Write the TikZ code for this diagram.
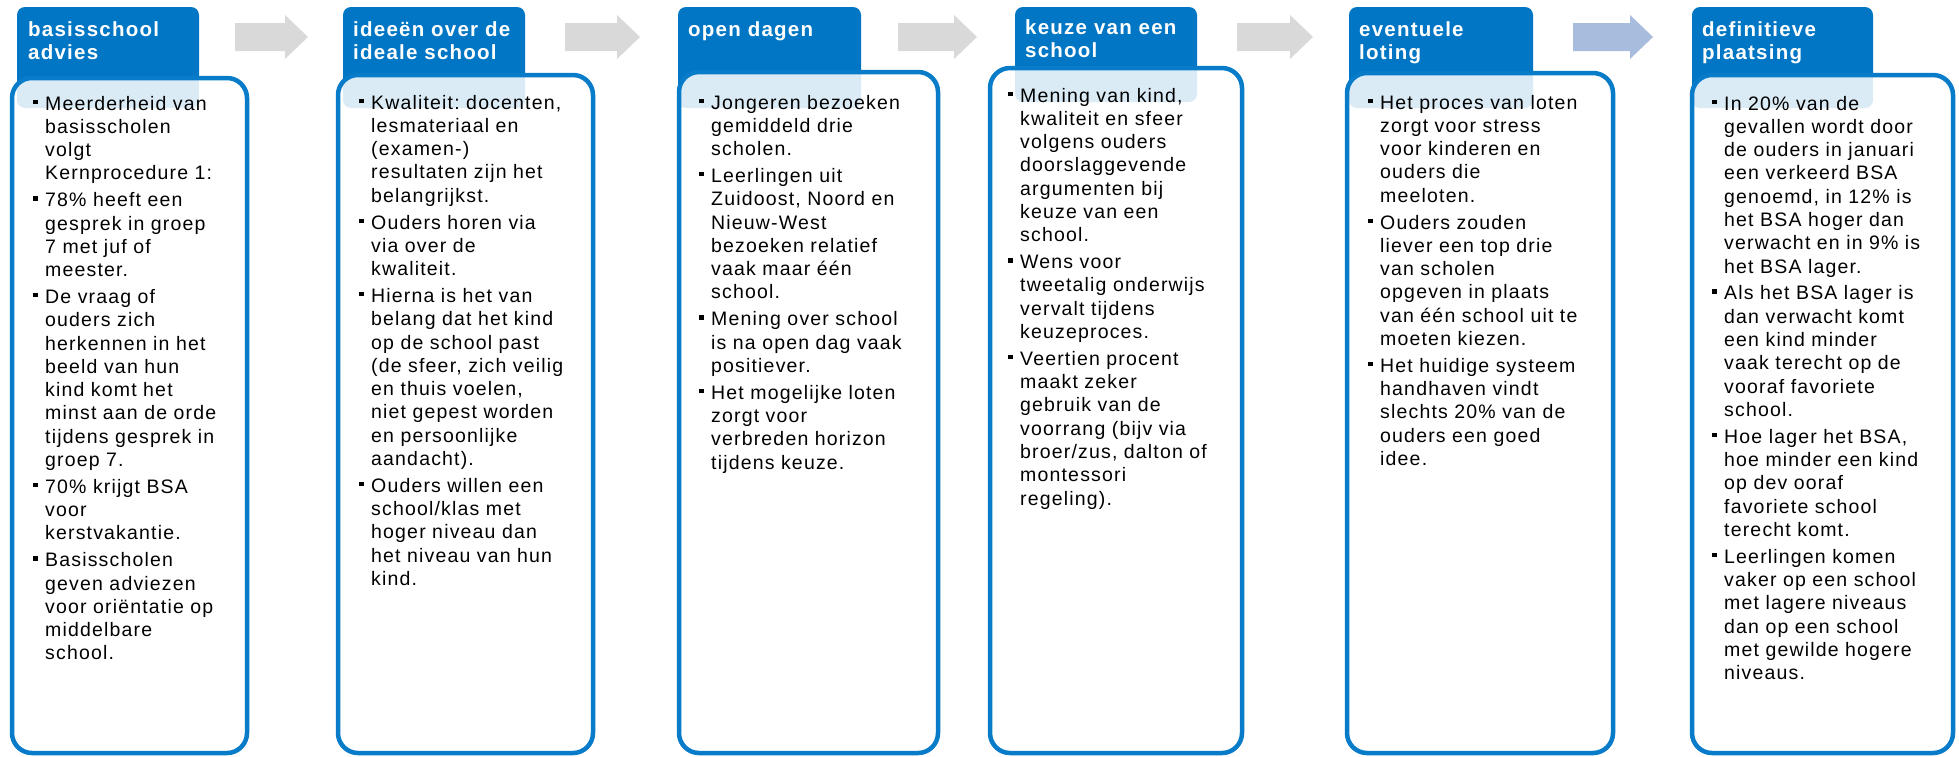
\documentclass[tikz,border=0pt]{standalone}
\usepackage{fontspec}
\setmainfont{Liberation Sans}[LetterSpace=6]
\usetikzlibrary{positioning}
\definecolor{tabblue}{RGB}{0,118,196}
\definecolor{cardblue}{RGB}{8,124,200}
\definecolor{flowgray}{RGB}{217,217,217}
\definecolor{flowblue}{RGB}{168,188,222}
\newcommand{\itm}{\par\hangindent=12pt\hangafter=1\noindent\makebox[12pt][l]{\rule[6pt]{4.5pt}{4.5pt}}}
\frenchspacing
\tikzset{
    tab/.style={fill=tabblue, rounded corners=8pt},
    card/.style={draw=cardblue, line width=4.5pt, fill=white, fill opacity=0.86, rounded corners=20pt},
    title/.style={anchor=north west, inner sep=0pt, align=left, text=white,
        font=\fontsize{20.5}{23}\selectfont\bfseries},
    body/.style={anchor=north west, inner sep=0pt, text width=250pt, align=left,
        font=\fontsize{19.5}{23.3}\selectfont\setlength{\parskip}{3.5pt}},
    flow/.style={fill=flowgray}
}
\begin{document}
\begin{tikzpicture}[x=1pt, y=-1pt]
                    \fill[white] (0,0) rectangle (1959,756);
                    \useasboundingbox (0,0) rectangle (1959,756);

                    \foreach \x/\l/\c in {235/73/flowgray, 565/75/flowgray, 898/79/flowgray, 1237/76/flowgray, 1573/80/flowblue}
                        \fill[flow, fill=\c] (\x,23) -- (\x+\l-23,23) -- (\x+\l-23,15) -- (\x+\l,37)
                            -- (\x+\l-23,59) -- (\x+\l-23,51) -- (\x,51) -- cycle;

                    \fill[tab] (17,7) rectangle (199,108);
                    \fill[tab] (343,7) rectangle (525,108);
                    \fill[tab] (678,7) rectangle (861,108);
                    \fill[tab] (1015,7) rectangle (1197,102);
                    \fill[tab] (1349,7) rectangle (1533,108);
                    \fill[tab] (1692,7) rectangle (1873,108);

                    \draw[card] (12,78) rectangle (247,753);
                    \draw[card] (338,75) rectangle (593,753);
                    \draw[card] (679,72) rectangle (938,753);
                    \draw[card] (990,68) rectangle (1242,753);
                    \draw[card] (1347,73) rectangle (1613,753);
                    \draw[card] (1692,75) rectangle (1953,753);

                    \node[title] (t1) at (28,21.5) {basisschool\\advies};
                    \node[title] (t2) at (353,21.5) {ideeën over de\\ideale school};
                    \node[title] (t3) at (688,21.5) {open dagen};
                    \node[title] (t4) at (1025,19.5) {keuze van een\\school};
                    \node[title] (t5) at (1359,21.5) {eventuele\\loting};
                    \node[title] (t6) at (1702,21.5) {definitieve\\plaatsing};

                    \node[body] (b1) at (33,83) {
                        \itm Meerderheid van\newline basisscholen\newline volgt\newline Kernprocedure 1:
                        \itm 78\% heeft een\newline gesprek in groep\newline 7 met juf of\newline meester.
                        \itm De vraag of\newline ouders zich\newline herkennen in het\newline beeld van hun\newline kind komt het\newline minst aan de orde\newline tijdens gesprek in\newline groep 7.
                        \itm 70\% krijgt BSA\newline voor\newline kerstvakantie.
                        \itm Basisscholen\newline geven adviezen\newline voor oriëntatie op\newline middelbare\newline school.\par};
                    \node[body] (b2) at (359,82) {
                        \itm Kwaliteit: docenten,\newline lesmateriaal en\newline (examen-)\newline resultaten zijn het\newline belangrijkst.
                        \itm Ouders horen via\newline via over de\newline kwaliteit.
                        \itm Hierna is het van\newline belang dat het kind\newline op de school past\newline (de sfeer, zich veilig\newline en thuis voelen,\newline niet gepest worden\newline en persoonlijke\newline aandacht).
                        \itm Ouders willen een\newline school/klas met\newline hoger niveau dan\newline het niveau van hun\newline kind.\par};
                    \node[body] (b3) at (699,82) {
                        \itm Jongeren bezoeken\newline gemiddeld drie\newline scholen.
                        \itm Leerlingen uit\newline Zuidoost, Noord en\newline Nieuw-West\newline bezoeken relatief\newline vaak maar één\newline school.
                        \itm Mening over school\newline is na open dag vaak\newline positiever.
                        \itm Het mogelijke loten\newline zorgt voor\newline verbreden horizon\newline tijdens keuze.\par};
                    \node[body] (b4) at (1008,75) {
                        \itm Mening van kind,\newline kwaliteit en sfeer\newline volgens ouders\newline doorslaggevende\newline argumenten bij\newline keuze van een\newline school.
                        \itm Wens voor\newline tweetalig onderwijs\newline vervalt tijdens\newline keuzeproces.
                        \itm Veertien procent\newline maakt zeker\newline gebruik van de\newline voorrang (bijv via\newline broer/zus, dalton of\newline montessori\newline regeling).\par};
                    \node[body] (b5) at (1368,82) {
                        \itm Het proces van loten\newline zorgt voor stress\newline voor kinderen en\newline ouders die\newline meeloten.
                        \itm Ouders zouden\newline liever een top drie\newline van scholen\newline opgeven in plaats\newline van één school uit te\newline moeten kiezen.
                        \itm Het huidige systeem\newline handhaven vindt\newline slechts 20\% van de\newline ouders een goed\newline idee.\par};
                    \node[body] (b6) at (1712,83) {
                        \itm In 20\% van de\newline gevallen wordt door\newline de ouders in januari\newline een verkeerd BSA\newline genoemd, in 12\% is\newline het BSA hoger dan\newline verwacht en in 9\% is\newline het BSA lager.
                        \itm Als het BSA lager is\newline dan verwacht komt\newline een kind minder\newline vaak terecht op de\newline vooraf favoriete\newline school.
                        \itm Hoe lager het BSA,\newline hoe minder een kind\newline op dev ooraf\newline favoriete school\newline terecht komt.
                        \itm Leerlingen komen\newline vaker op een school\newline met lagere niveaus\newline dan op een school\newline met gewilde hogere\newline niveaus.\par};
                \end{tikzpicture}
\end{document}
